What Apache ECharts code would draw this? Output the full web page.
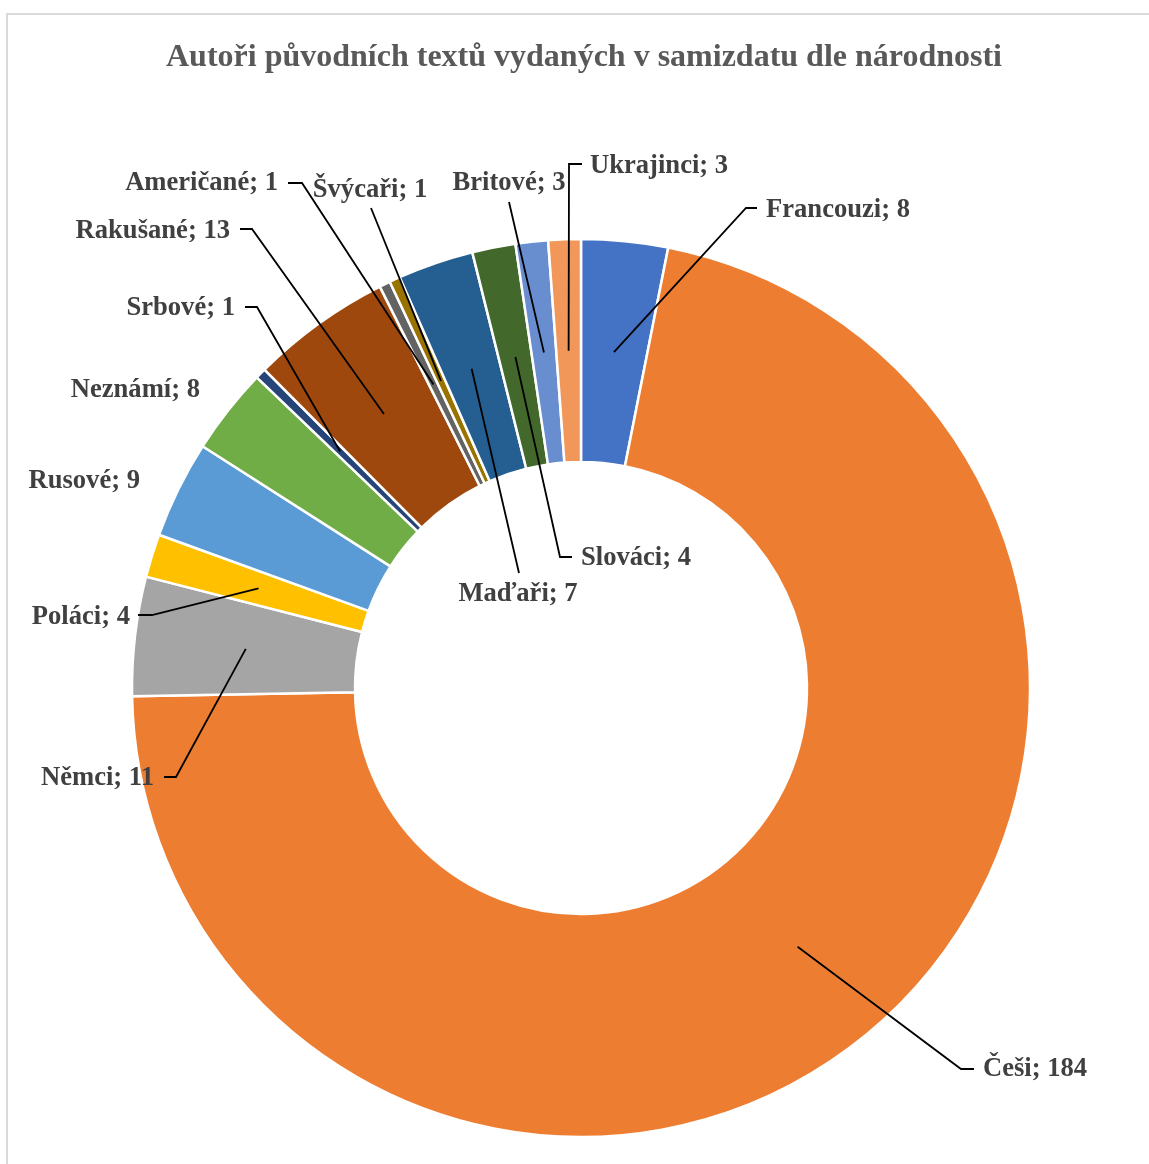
<!DOCTYPE html>
<html><head><meta charset="utf-8">
<script src="https://cdn.jsdelivr.net/npm/echarts@6/dist/echarts.min.js"></script>
<style>html,body{margin:0;padding:0;background:#fff}#c{width:1149px;height:1164px}</style>
</head><body><div id="c"></div>
<script>
// ---- data ----
const titleText = 'Autoři původních textů vydaných v samizdatu dle národnosti';
const categories = ['Francouzi','Češi','Němci','Poláci','Rusové','Neznámí','Srbové','Rakušané','Američané','Švýcaři','Maďaři','Slováci','Britové','Ukrajinci'];
const values = [8,184,11,4,9,8,1,13,1,1,7,4,3,3];

// ---- styles ----
const palette = ['#4472C4','#ED7D31','#A5A5A5','#FFC000','#5B9BD5','#70AD47','#264478','#9E480E','#636363','#997300','#255E91','#43682B','#698ED0','#F1975A'];

// ---- layout ----
const PIE_CENTER = [581, 688];
const PIE_RADIUS = [226, 449];
// label text anchor + leader-line elbow/end
const labelPlacement = [
  {x:766, y:210, align:'left',   elbow:[746,208], end:[757,208]},
  {x:983, y:1069,align:'left',   elbow:[961,1069],end:[974,1069]},
  {x:154, y:778, align:'right',  elbow:[176,777], end:[164,777]},
  {x:130, y:617, align:'right',  elbow:[152,615], end:[138,615]},
  {x:140, y:481, align:'right',  elbow:null},
  {x:200, y:390, align:'right',  elbow:null},
  {x:235, y:308, align:'right',  elbow:[257,307], end:[245,307]},
  {x:230, y:231, align:'right',  elbow:[252,229], end:[240,229]},
  {x:278, y:183, align:'right',  elbow:[302,183], end:[288,183]},
  {x:370, y:190, align:'center', elbow:[371,208], end:[371,208]},
  {x:518, y:594, align:'center', elbow:[519,573], end:[519,573]},
  {x:581, y:558, align:'left',   elbow:[560,557], end:[572,557]},
  {x:509, y:183, align:'center', elbow:[509,202], end:[509,202]},
  {x:590, y:166, align:'left',   elbow:[569,164], end:[582,164]}
];

const chart = echarts.init(document.getElementById('c'), null, {renderer:'canvas'});

// anchor point of a leader line: middle of the ring at the slice's mid angle, from the library's own pie layout
function anchorPoint(idx) {
  let lay = null;
  try { lay = chart.getModel().getSeriesByIndex(0).getData().getItemLayout(idx); } catch (e) { lay = null; }
  if (lay && lay.startAngle != null) {
    const mid = (lay.startAngle + lay.endAngle) / 2;
    const rm = (lay.r + lay.r0) / 2;
    return [lay.cx + rm * Math.cos(mid), lay.cy + rm * Math.sin(mid)];
  }
  const total = values.reduce((s, v) => s + v, 0);
  let before = 0;
  for (let i = 0; i < idx; i++) before += values[i];
  const mid = -Math.PI / 2 + (before + values[idx] / 2) / total * Math.PI * 2;
  const rm = (PIE_RADIUS[0] + PIE_RADIUS[1]) / 2;
  return [PIE_CENTER[0] + rm * Math.cos(mid), PIE_CENTER[1] + rm * Math.sin(mid)];
}

const seriesData = categories.map((name, i) => ({
  name: name,
  value: values[i],
  itemStyle: {color: palette[i]}
}));

const frame = {
  type: 'rect',
  shape: {x: 7, y: 14, width: 1300, height: 1300},
  style: {fill: 'none', stroke: '#d9d9d9', lineWidth: 2},
  silent: true
};

chart.setOption({
  animation: false,
  backgroundColor: '#ffffff',
  title: {
    text: titleText,
    left: 166,
    top: 42,
    padding: 0,
    textStyle: {fontFamily: 'Liberation Serif', fontWeight: 'bold', fontSize: 32, color: '#595959'}
  },
  graphic: {elements: [frame]},
  series: [{
    type: 'pie',
    center: PIE_CENTER,
    radius: PIE_RADIUS,
    startAngle: 90,
    clockwise: true,
    avoidLabelOverlap: false,
    emphasis: {disabled: true},
    itemStyle: {borderColor: '#ffffff', borderWidth: 2.5},
    label: {
      show: true,
      position: 'outside',
      formatter: '{b}; {c}',
      fontFamily: 'Liberation Serif',
      fontWeight: 'bold',
      fontSize: 26.6,
      color: '#404040'
    },
    labelLine: {show: false},
    labelLayout: function (params) {
      const p = labelPlacement[params.dataIndex];
      return {x: p.x, y: p.y, align: p.align, verticalAlign: 'middle'};
    },
    data: seriesData
  }]
});

// leader lines drawn above the ring
const leaderLines = [];
labelPlacement.forEach((p, i) => {
  if (!p.elbow) return;
  leaderLines.push({
    type: 'polyline',
    z: 100,
    silent: true,
    shape: {points: [anchorPoint(i), p.elbow, p.end]},
    style: {stroke: '#000000', lineWidth: 1.8, fill: null}
  });
});
chart.setOption({graphic: {elements: [frame].concat(leaderLines)}});
</script>
</body></html>
